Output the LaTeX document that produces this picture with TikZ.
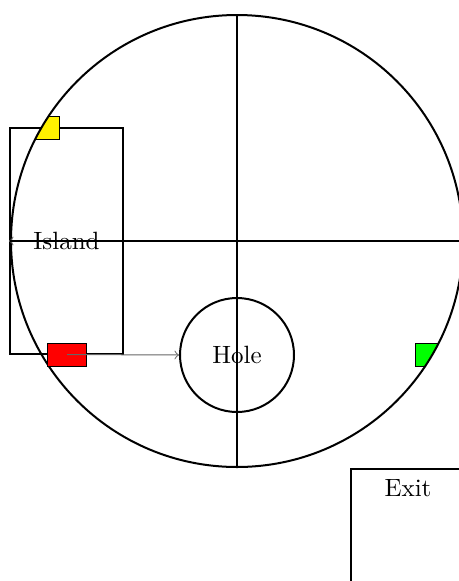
\documentclass[tikz,border=0pt]{standalone}
\begin{document}
\begin{tikzpicture}[x=0.4pt,y=-0.4pt,
  wall/.style={draw, line width=0.8pt},
  flagbox/.style={draw, line width=0.4pt, minimum width=15.2pt, minimum height=9.2pt, inner sep=0pt},
  link/.style={->, draw=black!60, line width=0.4pt}]
\clip (0,0) rectangle (459,581);
% island
\node[wall, rectangle, minimum width=45.2pt, minimum height=90.4pt, inner sep=0pt] (island) at (66.5,241) {Island};
% flags clipped to arena
\begin{scope}
  \clip (237,241) circle[radius=90.4pt];
  \node[flagbox, fill=yellow] (yellowbox) at (40,128) {};
  \node[flagbox, fill=green] (greenbox) at (434,354.5) {};
\end{scope}
% arena
\node[wall, circle, minimum size=180.8pt, inner sep=0pt] (arena) at (237,241) {};
% hole
\node[wall, circle, minimum size=45.6pt, inner sep=0pt] (hole) at (237,355) {Hole};
% cross lines
\draw[link] (island.east) -- (island.west);
\draw[line width=0.8pt] (arena.west) -- (arena.east);
\draw[line width=0.8pt] (arena.north) -- (arena.south);
% red flag and arrow
\node[flagbox, fill=red] (redbox) at (67,354.5) {};
\draw[link] (redbox.center) -- (hole.west);
% exit
\node[wall, rectangle, anchor=north west, minimum width=45.6pt, minimum height=90.4pt, inner sep=0pt,
  label={[anchor=north, inner sep=4.5pt]north:Exit}] (exit) at (350,468) {};
\end{tikzpicture}
\end{document}
